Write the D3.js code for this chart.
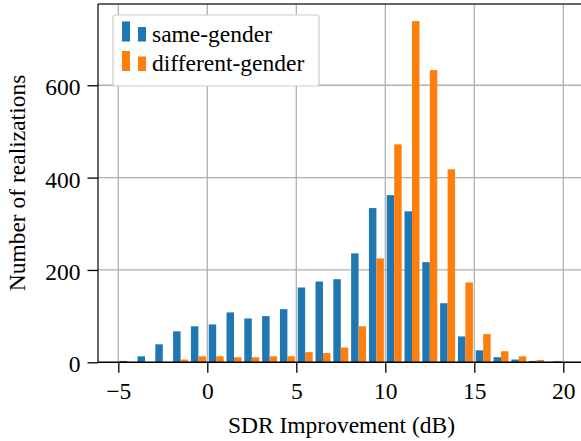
<!DOCTYPE html>
<html>
<head>
<meta charset="utf-8">
<script src="https://cdn.jsdelivr.net/npm/d3@7"></script>
<style>
  html, body { margin: 0; padding: 0; background: #fff; overflow: hidden; }
  svg { display: block; }
  svg text { font-family: "Liberation Serif", "DejaVu Serif", "Times New Roman", Times, serif !important; fill: #000; }
</style>
</head>
<body>
<svg id="chart" width="581" height="441"></svg>
<script>
// ---- data ----
const binStarts = [-5,-4,-3,-2,-1,0,1,2,3,4,5,6,7,8,9,10,11,12,13,14,15,16,17,18,19];
const sameGender = [3,13,39,67,78,82,108,95,100,115,162,175,180,236,334,362,327,217,128,56,26,11,6,3,1];
const differentGender = [1,1,1,6,13,13,11,11,13,13,22,20,32,78,225,472,739,633,418,173,61,24,13,5,3];
const xTicks = [-5,0,5,10,15,20];
const yTicks = [0,200,400,600];
const seriesNames = ["same-gender","different-gender"];
const seriesColors = ["#1f77b4","#ff7f0e"];

(function () {
// ---- layout ----
const svg = d3.select("#chart");
const plotLeft = 98, plotTop = 4, plotBottom = 362.3, plotRight = 581;
const pxPerUnit = 17.8, x0px = 207.3;
const xMin = (plotLeft - x0px) / pxPerUnit;
const xMax = (plotRight - x0px) / pxPerUnit;
const x = d3.scaleLinear().domain([xMin, xMax]).range([plotLeft, plotRight]);
const y = d3.scaleLinear().domain([0, 776]).range([plotBottom, plotTop]);
const fs = 23.5;

// grid
const grid = svg.append("g");
grid.selectAll("line.v").data(xTicks).enter().append("line")
  .attr("x1", d => x(d)).attr("x2", d => x(d))
  .attr("y1", plotTop).attr("y2", plotBottom)
  .attr("stroke", "#b0b0b0").attr("stroke-width", 1.3);
grid.selectAll("line.h").data(yTicks.filter(d => d > 0)).enter().append("line")
  .attr("x1", plotLeft).attr("x2", plotRight)
  .attr("y1", d => y(d)).attr("y2", d => y(d))
  .attr("stroke", "#b0b0b0").attr("stroke-width", 1.3);

// bars
const off = 0.08, bw = 0.42;
const series = [sameGender, differentGender];
series.forEach((vals, si) => {
  svg.append("g").selectAll("rect").data(vals).enter().append("rect")
    .attr("x", (d, i) => x(binStarts[i] + off + si * bw))
    .attr("width", x(bw) - x(0))
    .attr("y", d => y(d))
    .attr("height", d => y(0) - y(d))
    .attr("fill", seriesColors[si]);
});

// spines
svg.append("line").attr("x1", plotLeft).attr("x2", plotRight).attr("y1", plotTop).attr("y2", plotTop)
  .attr("stroke", "#333").attr("stroke-width", 1.5);
svg.append("line").attr("x1", plotLeft).attr("x2", plotLeft).attr("y1", plotTop).attr("y2", plotBottom)
  .attr("stroke", "#000").attr("stroke-width", 1.2);
svg.append("line").attr("x1", plotLeft).attr("x2", plotRight).attr("y1", plotBottom).attr("y2", plotBottom)
  .attr("stroke", "#000").attr("stroke-width", 1.4);

// x axis
const xAxis = d3.axisBottom(x).tickValues(xTicks).tickSize(10.5).tickPadding(0)
  .tickFormat(d => d < 0 ? "\u2212" + Math.abs(d) : String(d));
const gx = svg.append("g").attr("transform", `translate(0,${plotBottom})`).call(xAxis)
  .attr("font-family", null).attr("font-size", null);
gx.select(".domain").remove();
gx.selectAll(".tick line").attr("stroke", "#000").attr("stroke-width", 1.3);
gx.selectAll(".tick text").attr("font-size", fs).attr("dy", null).attr("y", 37);

// y axis
const yAxis = d3.axisLeft(y).tickValues(yTicks).tickSize(10.5).tickPadding(7);
const gy = svg.append("g").attr("transform", `translate(${plotLeft},0)`).call(yAxis)
  .attr("font-family", null).attr("font-size", null);
gy.select(".domain").remove();
gy.selectAll(".tick line").attr("stroke", "#000").attr("stroke-width", 1.3);
gy.selectAll(".tick text").attr("font-size", fs).attr("dy", null).attr("y", 9.5);

// axis labels
svg.append("text").attr("x", 341.5).attr("y", 432.5).attr("text-anchor", "middle")
  .attr("font-size", fs).text("SDR Improvement (dB)");
svg.append("text").attr("transform", "translate(25,183) rotate(-90)")
  .attr("text-anchor", "middle").attr("font-size", fs).text("Number of realizations");

// legend
const lg = svg.append("g");
lg.append("rect").attr("x", 113).attr("y", 15).attr("width", 206).attr("height", 71)
  .attr("rx", 2).attr("fill", "#fff").attr("stroke", "#cccccc").attr("stroke-width", 1.2);
const legendRows = [41.5, 71];
seriesNames.forEach((name, i) => {
  const base = legendRows[i];
  lg.append("rect").attr("x", 122).attr("y", base - 20).attr("width", 8).attr("height", 20)
    .attr("fill", seriesColors[i]);
  lg.append("rect").attr("x", 138).attr("y", base - 14.5).attr("width", 8).attr("height", 14.5)
    .attr("fill", seriesColors[i]);
  lg.append("text").attr("x", 152).attr("y", base).attr("font-size", fs).text(name);
});
})();
</script>
</body>
</html>
